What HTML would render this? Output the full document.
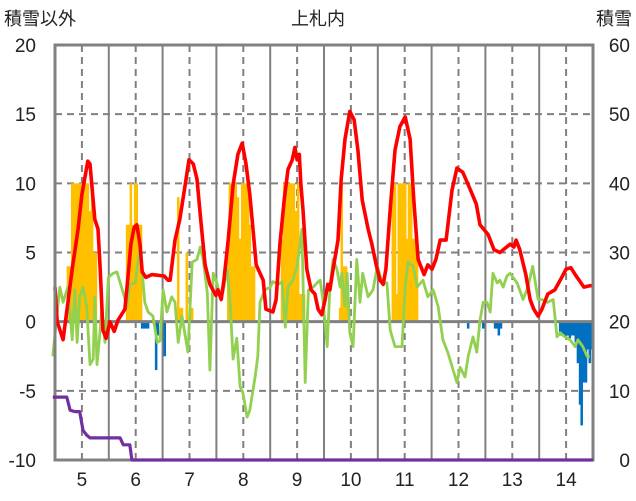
<!DOCTYPE html>
<html><head><meta charset="utf-8"><style>
html,body{margin:0;padding:0;background:#fff;}
svg{display:block;font-family:"Liberation Sans","Noto Sans CJK JP",sans-serif;}
</style></head><body>
<svg id="chart" width="636" height="501" viewBox="0 0 636 501"></svg>
<script>
const xTicks=[5,6,7,8,9,10,11,12,13,14];
const leftTicks=[-10,-5,0,5,10,15,20];
const rightTicks=[0,10,20,30,40,50,60];
const redT=[4.50,4.54,4.65,4.82,4.93,5.00,5.11,5.15,5.24,5.30,5.34,5.39,5.45,5.52,5.60,5.67,5.80,5.86,5.91,5.97,6.02,6.08,6.12,6.19,6.30,6.53,6.60,6.64,6.73,6.82,6.92,6.99,7.07,7.14,7.20,7.29,7.38,7.49,7.53,7.59,7.64,7.72,7.81,7.90,7.98,8.05,8.12,8.18,8.24,8.37,8.42,8.55,8.61,8.68,8.76,8.83,8.91,8.96,9.00,9.04,9.07,9.11,9.18,9.26,9.33,9.39,9.46,9.52,9.57,9.61,9.67,9.76,9.82,9.89,9.98,10.06,10.13,10.21,10.32,10.39,10.47,10.54,10.60,10.65,10.73,10.82,10.91,11.01,11.10,11.17,11.25,11.36,11.43,11.51,11.58,11.66,11.77,11.88,11.97,12.08,12.18,12.33,12.40,12.55,12.66,12.77,12.96,13.03,13.07,13.14,13.25,13.33,13.40,13.48,13.55,13.66,13.79,13.89,14.00,14.09,14.17,14.26,14.33,14.44,14.5];
const redV=[2.5,0,-1.3,3.8,6.7,9.2,11.6,11.4,7.4,6.7,3.8,-0.6,-1.2,0,-0.7,0.1,0.9,3.4,5.6,6.8,7.0,5.6,3.6,3.2,3.4,3.3,3.0,3.0,5.9,7.4,9.9,11.7,11.4,10.3,7.7,4.1,2.7,1.9,2.3,1.6,3.0,5.9,9.9,12.1,12.9,11.4,9.2,6.7,4.1,3.0,0.9,0.7,1.6,5.6,8.8,11.0,11.7,12.6,11.7,12.1,9.9,8.1,3.8,2.3,2.0,0.9,0.5,1.6,2.7,2.3,3.8,5.9,10.3,13.2,15.2,14.6,12.4,8.8,6.7,5.6,4.1,3.0,2.7,3.8,8.1,12.4,14.1,14.8,13.2,8.8,4.5,3.4,4.1,3.8,4.5,5.9,5.9,9.5,11.1,10.8,9.9,8.5,7.0,6.3,5.2,5.0,5.6,5.4,5.9,5.2,3.4,1.6,0.9,0.4,0.9,2.0,2.3,3.0,3.8,3.9,3.4,2.9,2.5,2.6,2.6];
const greenT=[4.46,4.59,4.65,4.74,4.82,4.87,4.91,4.96,5.02,5.09,5.15,5.21,5.24,5.28,5.34,5.37,5.43,5.49,5.58,5.65,5.75,5.84,5.89,5.99,6.08,6.17,6.23,6.32,6.40,6.45,6.51,6.58,6.67,6.73,6.79,6.86,6.97,7.05,7.14,7.20,7.25,7.33,7.38,7.44,7.51,7.57,7.62,7.70,7.75,7.81,7.88,7.94,7.99,8.07,8.12,8.22,8.27,8.31,8.40,8.50,8.55,8.65,8.72,8.78,8.83,8.92,9.00,9.09,9.15,9.21,9.30,9.37,9.43,9.48,9.56,9.61,9.67,9.74,9.80,9.83,9.89,9.93,9.98,10.04,10.11,10.17,10.22,10.32,10.41,10.49,10.58,10.67,10.73,10.82,10.95,11.01,11.06,11.16,11.23,11.34,11.43,11.53,11.62,11.71,11.80,11.97,12.03,12.12,12.18,12.27,12.34,12.40,12.46,12.53,12.59,12.64,12.72,12.77,12.83,12.90,12.96,13.09,13.20,13.29,13.38,13.48,13.55,13.66,13.76,13.83,13.89,13.98,14.07,14.17,14.22,14.31,14.39,14.44];
const greenV=[-2.5,2.5,1.4,2.5,-1.3,2.3,-1.5,1.8,2.5,1.1,-3.1,-2.7,1.8,-3.1,-0.6,0.9,-1.5,3.2,3.5,3.6,2.3,1.1,2.7,2.8,5.4,1.4,0.7,0.4,-1.5,-1.4,2.3,0.7,1.8,1.4,-1.5,0.4,-2.2,4.3,4.5,5.4,4.6,2.1,-3.5,3.5,2.8,1.8,2.1,3.8,1.8,-2.7,-1.2,-4.7,-5.1,-6.9,-6.4,-4.0,-2.5,1.4,2.3,2.5,2.9,2.7,2.9,-0.4,2.5,3.0,4.0,6.7,-4.4,2.3,2.5,2.8,3.0,1.6,-1.8,2.5,4.5,3.8,2.5,3.5,1.1,3.5,-0.8,-1.8,4.5,1.4,3.5,1.8,2.3,4.0,2.8,2.8,-0.6,-1.8,-1.8,2.5,4.3,4.0,2.5,3.0,1.8,2.3,1.1,-1.3,-2.2,-4.4,-3.3,-4.0,-2.5,-1.1,-2.2,0.1,1.4,1.4,0.7,3.5,2.8,3.0,2.5,3.3,3.5,2.8,1.6,2.5,4.0,1.6,1.6,1.4,1.6,-1.1,-0.8,-1.1,-1.3,-1.8,-1.3,-1.8,-2.5,-2.5];
const snowT=[4.46,4.72,4.78,4.87,4.96,5.02,5.09,5.15,5.71,5.77,5.89,5.93,14.5];
const snowV=[9.1,9.1,7.2,7.0,7.0,4.3,3.6,3.2,3.2,2.2,2.2,0,0];
const barT=[4.74,4.78,4.82,4.85,4.89,4.93,4.96,5.00,5.04,5.08,5.11,5.15,5.19,5.22,5.26,5.84,5.88,5.91,5.95,5.99,6.02,6.06,6.10,6.79,6.82,6.86,6.95,7.01,7.05,7.72,7.75,7.79,7.83,7.86,7.90,7.94,7.98,8.01,8.05,8.09,8.12,8.16,8.20,8.72,8.76,8.79,8.83,8.87,8.91,8.94,8.98,9.02,9.05,9.09,9.13,9.80,9.83,9.87,9.91,9.95,10.78,10.82,10.86,10.89,10.93,10.97,11.01,11.04,11.08,11.12,11.15,11.19,11.23];
const barV=[4,4,10,10,10,10,10,10,10,10,10,8,10,5,5,7,7,10,7,10,10,7,7,9,1,1,5,1,1,5,10,10,10,10,9,6,10,10,10,10,7,4,4,6,10,10,10,10,10,10,8,10,2,2,2,1,10,4,4,2,10,10,2,10,10,10,10,6,10,10,6,6,6];
const negT=[6.12,6.15,6.19,6.23,6.38,6.41,6.54,12.18,12.46,12.68,12.72,12.75,12.79,13.89,13.92,13.96,14.00,14.04,14.07,14.11,14.15,14.18,14.22,14.26,14.29,14.33,14.37,14.41,14.44,14.48];
const negV=[-0.5,-0.5,-0.5,-0.5,-3.5,-1,-2.5,-0.5,-0.5,-0.5,-0.5,-1,-0.5,-1,-1,-1,-1,-1,-1.2,-1,-1,-1.5,-3,-6,-7.5,-4.4,-4.4,-2,-3,-2];

const L=55,R=593,T=45,B=460;
const xS=d=>L+(d-4.5)*(R-L)/10;
const yL=v=>B-(v+10)*(B-T)/30;
const yR=v=>B-v*(B-T)/60;
const NS="http://www.w3.org/2000/svg";
const svg=document.getElementById('chart');
function mk(tag,attrs,parent){const e=document.createElementNS(NS,tag);for(const k in attrs)e.setAttribute(k,attrs[k]);(parent||svg).appendChild(e);return e;}

const grid=mk('g',{});


leftTicks.forEach(v=>{ if(v===-10||v===20||v===0) return;
  const l=mk('line',{x1:L,x2:R,y1:yL(v),y2:yL(v),stroke:'#808080','stroke-width':2,'stroke-dasharray':'7,5'},grid);
  
  
});
for(let d=5;d<=14;d++){
  const l=mk('line',{x1:xS(d),x2:xS(d),y1:T,y2:B,stroke:'#808080','stroke-width':2,'stroke-dasharray':'7,5'},grid);
  
  
  if(d<14){const s=mk('line',{x1:xS(d+0.5),x2:xS(d+0.5),y1:T,y2:B,stroke:'#808080','stroke-width':2},grid);
  
  }
}
const bw=(R-L)/240+0.3;
barT.forEach((t,i)=>{const v=barV[i];
  const r=mk('rect',{x:xS(t)-bw/2,y:yL(v),width:bw,height:yL(0)-yL(v),fill:'#ffc000'});
  
  
});
negT.forEach((t,i)=>{const v=negV[i];
  const r=mk('rect',{x:xS(t)-bw/2,y:yL(0),width:bw,height:yL(v)-yL(0),fill:'#0070c0'});
  
  
});
const z=mk('line',{x1:L,x2:R,y1:yL(0),y2:yL(0),stroke:'#808080','stroke-width':3});


function line(ts,vs,ys,color,w,name){
  const p=mk('polyline',{points:ts.map((t,i)=>xS(t).toFixed(1)+','+ys(vs[i]).toFixed(1)).join(' '),fill:'none',stroke:color,'stroke-width':w,'stroke-linejoin':'round'});
  
  
}
line(greenT,greenV,yL,'#92d050',2.8,'green-series-line');
line(redT,redV,yL,'#ff0000',3.6,'temperature-line');
const f=mk('rect',{x:L,y:T,width:R-L,height:B-T,fill:'none',stroke:'#808080','stroke-width':3});


line(snowT,snowV,yR,'#7030a0',3.2,'snow-depth-line');
leftTicks.forEach(v=>{const t=mk('text',{x:36,y:yL(v)+7,'text-anchor':'end','font-size':19,fill:'#222'});t.textContent=v;
  
  });
rightTicks.forEach(v=>{const t=mk('text',{x:630,y:yR(v)+7,'text-anchor':'end','font-size':19,fill:'#222'});t.textContent=v;
  
  });
xTicks.forEach(d=>{const t=mk('text',{x:xS(d),y:486,'text-anchor':'middle','font-size':19,fill:'#222'});t.textContent=d;
  
  });
const a=mk('text',{x:4,y:25,'font-size':18,fill:'#222'});a.textContent='積雪以外';


const b=mk('text',{x:318,y:25,'text-anchor':'middle','font-size':18,fill:'#222'});b.textContent='上札内';


const c=mk('text',{x:632,y:25,'text-anchor':'end','font-size':18,fill:'#222'});c.textContent='積雪';


</script>
</body></html>
